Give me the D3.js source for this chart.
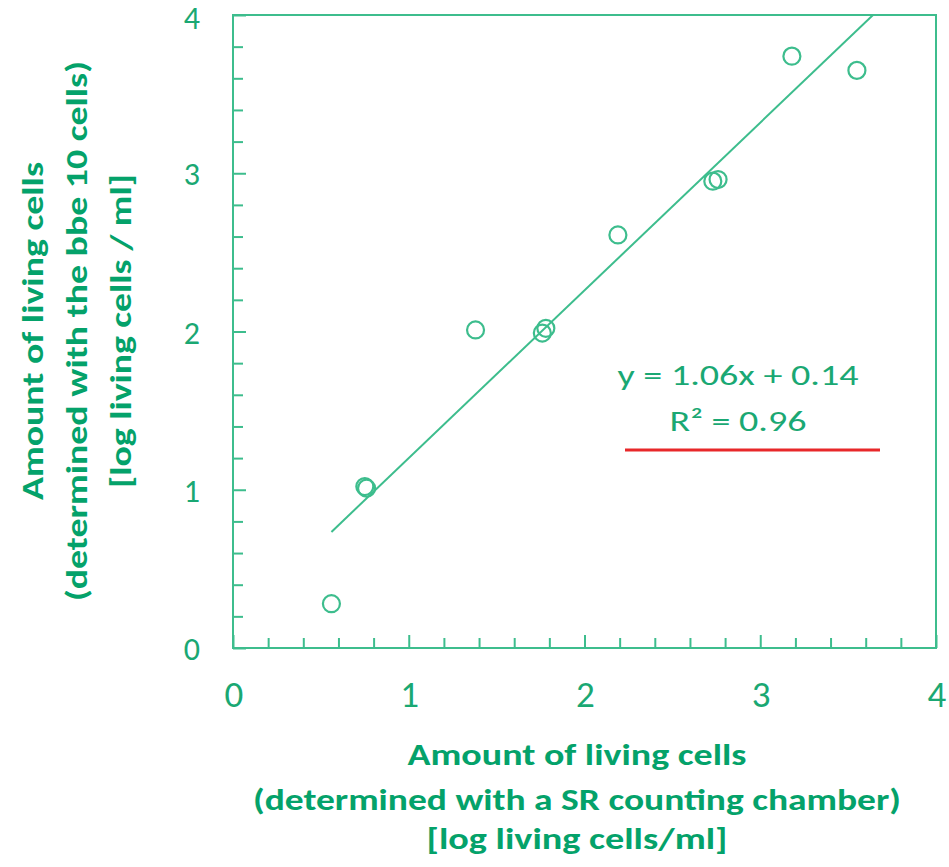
<!DOCTYPE html>
<html>
<head>
<meta charset="utf-8">
<script src="https://cdn.jsdelivr.net/npm/d3@7"></script>
<style>
  body { margin: 0; background: #fff; }
  text { font-family: Carlito, Lato, "Open Sans", sans-serif; }
  .title { font-family: Carlito, "Open Sans", Lato, sans-serif; }
</style>
</head>
<body>
<script>
// measured points (log living cells / ml)
var xValues = [0.56, 0.75, 0.76, 1.38, 1.76, 1.78, 2.19, 2.73, 2.76, 3.18, 3.55];
var yValues = [0.28, 1.02, 1.01, 2.01, 1.99, 2.02, 2.61, 2.95, 2.96, 3.74, 3.65];

// trendline y = 1.06x + 0.14
var fitSlope = 1.06;
var fitIntercept = 0.14;
var fitRange = [0.56, 3.64];

var majorTicks = [0, 1, 2, 3, 4];
var minorTicks = [0.2, 0.4, 0.6, 0.8, 1.2, 1.4, 1.6, 1.8, 2.2, 2.4, 2.6, 2.8, 3.2, 3.4, 3.6, 3.8];

var xTitle = ["Amount of living cells", "(determined with a SR counting chamber)", "[log living cells/ml]"];
var yTitle = ["Amount of living cells", "(determined with the bbe 10 cells)", "[log living cells / ml]"];
var eqLines = ["y = 1.06x + 0.14", "R\u00b2 = 0.96"];

var lineColor = "#3dbd8d";
var labelColor = "#1aa873";
var titleColor = "#04a26a";

function drawChart()
{
	var svg = d3.select("body").append("svg")
		.attr("width", 949)
		.attr("height", 867);

	var x = d3.scaleLinear().domain([0, 4]).range([233, 936]);
	var y = d3.scaleLinear().domain([0, 4]).range([648, 15]);

	// minor ticks (inside)
	svg.append("g")
		.attr("transform", "translate(0,648)")
		.call(d3.axisBottom(x).tickValues(minorTicks).tickSize(-10).tickFormat(""))
		.call(function(g){ g.select(".domain").remove(); });
	svg.append("g")
		.attr("transform", "translate(233,0)")
		.call(d3.axisLeft(y).tickValues(minorTicks).tickSize(-10).tickFormat(""))
		.call(function(g){ g.select(".domain").remove(); });
	// major ticks, a bit longer
	svg.append("g")
		.attr("transform", "translate(0,648)")
		.call(d3.axisBottom(x).tickValues(majorTicks).tickSize(-13).tickFormat(""))
		.call(function(g){ g.select(".domain").remove(); });
	svg.append("g")
		.attr("transform", "translate(233,0)")
		.call(d3.axisLeft(y).tickValues(majorTicks).tickSize(-13).tickFormat(""))
		.call(function(g){ g.select(".domain").remove(); });

	svg.selectAll(".tick line")
		.attr("stroke", lineColor)
		.attr("stroke-width", 2);

	// frame
	svg.append("rect")
		.attr("x", x(0))
		.attr("y", y(4))
		.attr("width", x(4) - x(0))
		.attr("height", y(0) - y(4))
		.attr("fill", "none")
		.attr("stroke", lineColor)
		.attr("stroke-width", 2);

	// tick labels
	svg.selectAll(".xlab")
		.data(majorTicks)
		.enter().append("text")
		.attr("x", function(d){ return x(d) + 1; })
		.attr("y", 707)
		.attr("text-anchor", "middle")
		.attr("font-size", 37)
		.attr("fill", labelColor)
		.text(function(d){ return d; });

	svg.selectAll(".ylab")
		.data(majorTicks)
		.enter().append("text")
		.attr("x", 200)
		.attr("y", function(d){ return Math.max(y(d) + 12, 29); })
		.attr("text-anchor", "end")
		.attr("font-size", 32)
		.attr("fill", labelColor)
		.text(function(d){ return d; });

	// trendline
	svg.append("clipPath").attr("id", "plotClip")
		.append("rect")
		.attr("x", x(0)).attr("y", y(4))
		.attr("width", x(4) - x(0)).attr("height", y(0) - y(4));

	svg.append("line")
		.attr("clip-path", "url(#plotClip)")
		.attr("x1", x(fitRange[0]))
		.attr("y1", y(fitSlope * fitRange[0] + fitIntercept))
		.attr("x2", x(fitRange[1]))
		.attr("y2", y(fitSlope * fitRange[1] + fitIntercept))
		.attr("stroke", lineColor)
		.attr("stroke-width", 2);

	// points
	svg.selectAll("circle")
		.data(xValues)
		.enter().append("circle")
		.attr("cx", function(d){ return x(d); })
		.attr("cy", function(d, i){ return y(yValues[i]); })
		.attr("r", 8.5)
		.attr("fill", "none")
		.attr("stroke", lineColor)
		.attr("stroke-width", 2.2);

	// equation
	var eqWidths = [241, 137];
	svg.selectAll(".eq")
		.data(eqLines)
		.enter().append("text")
		.attr("x", 738)
		.attr("y", function(d, i){ return 385 + i * 46; })
		.attr("text-anchor", "middle")
		.attr("font-size", 29)
		.attr("textLength", function(d, i){ return eqWidths[i]; })
		.attr("lengthAdjust", "spacingAndGlyphs")
		.attr("fill", labelColor)
		.text(function(d){ return d; });

	svg.append("line")
		.attr("x1", 625).attr("x2", 880)
		.attr("y1", 450).attr("y2", 450)
		.attr("stroke", "#e8282a")
		.attr("stroke-width", 3);

	// x title
	var xWidths = [339, 648, 301];
	var xBase = [765, 810, 849];
	svg.selectAll(".xt")
		.data(xTitle)
		.enter().append("text")
		.attr("class", "title")
		.attr("x", 577)
		.attr("y", function(d, i){ return xBase[i]; })
		.attr("text-anchor", "middle")
		.attr("font-size", 31)
		.attr("font-weight", "bold")
		.attr("textLength", function(d, i){ return xWidths[i]; })
		.attr("lengthAdjust", "spacingAndGlyphs")
		.attr("fill", titleColor)
		.text(function(d){ return d; });

	// y title
	var yWidths = [338, 540, 314];
	var yBase = [43, 87, 131];
	svg.selectAll(".yt")
		.data(yTitle)
		.enter().append("text")
		.attr("class", "title")
		.attr("transform", function(d, i){ return "translate(" + yBase[i] + ",331) rotate(-90)"; })
		.attr("text-anchor", "middle")
		.attr("font-size", 31)
		.attr("font-weight", "bold")
		.attr("textLength", function(d, i){ return yWidths[i]; })
		.attr("lengthAdjust", "spacingAndGlyphs")
		.attr("fill", titleColor)
		.text(function(d){ return d; });
}

drawChart();
</script>
</body>
</html>
